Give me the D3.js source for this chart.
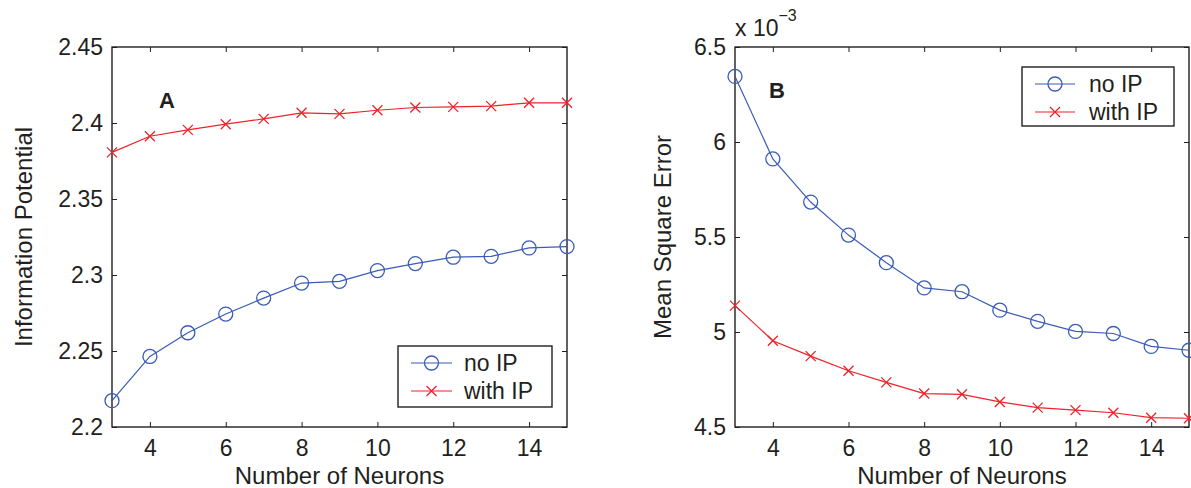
<!DOCTYPE html>
<html>
<head>
<meta charset="utf-8">
<script src="https://cdn.jsdelivr.net/npm/d3@7/dist/d3.min.js"></script>
<style>
  html, body { margin: 0; padding: 0; background: #fff; }
  svg { display: block; }
  text { font-family: "Liberation Sans", Arial, Helvetica, sans-serif; fill: #231f20; }
</style>
</head>
<body>
<svg id="chart" width="1191" height="488"></svg>
<script>
// Number of hidden neurons on the x axis
const neurons = [3, 4, 5, 6, 7, 8, 9, 10, 11, 12, 13, 14, 15];
const seriesNames = ["no IP", "with IP"];

// Panel A: information potential
const ipNoIP   = [2.2173, 2.2464, 2.2620, 2.2743, 2.2848, 2.2947, 2.2958, 2.3029, 2.3075, 2.3117, 2.3123, 2.3178, 2.3187];
const ipWithIP = [2.3807, 2.3913, 2.3955, 2.3992, 2.4027, 2.4067, 2.4060, 2.4084, 2.4102, 2.4106, 2.4111, 2.4133, 2.4133];

// Panel B: mean square error
const mseNoIP   = [0.006345, 0.005911, 0.005684, 0.005510, 0.005365, 0.005232, 0.005212, 0.005115, 0.005056, 0.005003, 0.004992, 0.004924, 0.004904];
const mseWithIP = [0.005139, 0.004954, 0.004873, 0.004796, 0.004735, 0.004676, 0.004672, 0.004632, 0.004602, 0.004589, 0.004575, 0.004549, 0.004546];

// Tick values
const xTicks   = [4, 6, 8, 10, 12, 14];
const ipTicks  = [2.2, 2.25, 2.3, 2.35, 2.4, 2.45];
const mseTicks = [0.0045, 0.005, 0.0055, 0.006, 0.0065];

const BLUE = "#3a5bb6";
const RED = "#ee2228";
const INK = "#231f20";
const FONT = 23;
const TITLE_FONT = 24;

const svg = d3.select("#chart");

function drawPanel(cfg) {
  const { left, right, top, bottom } = cfg.box;
  const g = svg.append("g");

  const x = d3.scaleLinear().domain([3, 15]).range([left, right]);
  const y = d3.scaleLinear().domain(cfg.yDomain).range([bottom, top]);

  // inward ticks on all four sides
  const tick = 5;
  g.append("g").attr("transform", `translate(0,${bottom})`)
    .call(d3.axisBottom(x).tickValues(xTicks).tickSizeInner(-tick).tickSizeOuter(0).tickPadding(13))
    .call(a => a.select(".domain").remove());
  g.append("g").attr("transform", `translate(0,${top})`)
    .call(d3.axisTop(x).tickValues(xTicks).tickSizeInner(-tick).tickSizeOuter(0).tickFormat(""))
    .call(a => a.select(".domain").remove());
  g.append("g").attr("transform", `translate(${left},0)`)
    .call(d3.axisLeft(y).tickValues(cfg.yTicks).tickSizeInner(-tick).tickSizeOuter(0).tickPadding(9).tickFormat(cfg.yFormat))
    .call(a => a.select(".domain").remove());
  g.append("g").attr("transform", `translate(${right},0)`)
    .call(d3.axisRight(y).tickValues(cfg.yTicks).tickSizeInner(-tick).tickSizeOuter(0).tickFormat(""))
    .call(a => a.select(".domain").remove());

  g.selectAll(".tick line").attr("stroke", INK).attr("stroke-width", 1);
  g.selectAll(".tick text").attr("font-size", FONT).attr("fill", INK)
    .attr("font-family", '"Liberation Sans", Arial, sans-serif');

  // axes frame
  g.append("rect")
    .attr("x", left).attr("y", top)
    .attr("width", right - left).attr("height", bottom - top)
    .attr("fill", "none").attr("stroke", INK).attr("stroke-width", 1.4);

  const line = d3.line().x((d, i) => x(neurons[i])).y(d => y(d));

  // no IP series: blue line with open circles
  g.append("path").datum(cfg.noIP)
    .attr("d", line).attr("fill", "none").attr("stroke", BLUE).attr("stroke-width", 1.2);
  g.selectAll(".circ").data(cfg.noIP).enter().append("circle")
    .attr("cx", (d, i) => x(neurons[i])).attr("cy", d => y(d)).attr("r", 7)
    .attr("fill", "none").attr("stroke", BLUE).attr("stroke-width", 1.3);

  // with IP series: red line with x markers
  g.append("path").datum(cfg.withIP)
    .attr("d", line).attr("fill", "none").attr("stroke", RED).attr("stroke-width", 1.2);
  const s = 5;
  g.selectAll(".cross").data(cfg.withIP).enter().append("path")
    .attr("d", (d, i) => {
      const cx = x(neurons[i]), cy = y(d);
      return `M${cx - s},${cy - s}L${cx + s},${cy + s}M${cx - s},${cy + s}L${cx + s},${cy - s}`;
    })
    .attr("fill", "none").attr("stroke", RED).attr("stroke-width", 1.3);

  // panel letter
  g.append("text").attr("x", cfg.letterPos[0]).attr("y", cfg.letterPos[1])
    .attr("font-size", 22).attr("font-weight", "bold").attr("text-anchor", "middle")
    .attr("dominant-baseline", "central").text(cfg.letter);

  // axis titles
  g.append("text").attr("x", (left + right) / 2).attr("y", 484)
    .attr("font-size", TITLE_FONT).attr("text-anchor", "middle").text("Number of Neurons");
  g.append("text")
    .attr("transform", `translate(${cfg.yTitleX},${(top + bottom) / 2}) rotate(-90)`)
    .attr("font-size", TITLE_FONT).attr("text-anchor", "middle").text(cfg.yTitle);

  // legend
  const L = cfg.legend;
  g.append("rect").attr("x", L.x).attr("y", L.y).attr("width", L.w).attr("height", L.h)
    .attr("fill", "#fff").attr("stroke", INK).attr("stroke-width", 1.4);
  const rows = [
    { name: seriesNames[0], color: BLUE, marker: "circle", dy: L.row1 },
    { name: seriesNames[1], color: RED, marker: "cross", dy: L.row2 }
  ];
  rows.forEach(r => {
    const ly = L.y + r.dy;
    g.append("line").attr("x1", L.x + L.lx0).attr("x2", L.x + L.lx1)
      .attr("y1", ly).attr("y2", ly).attr("stroke", r.color).attr("stroke-width", 1.2);
    const mx = L.x + (L.lx0 + L.lx1) / 2;
    if (r.marker === "circle") {
      g.append("circle").attr("cx", mx).attr("cy", ly).attr("r", 7)
        .attr("fill", "none").attr("stroke", r.color).attr("stroke-width", 1.3);
    } else {
      g.append("path")
        .attr("d", `M${mx - s},${ly - s}L${mx + s},${ly + s}M${mx - s},${ly + s}L${mx + s},${ly - s}`)
        .attr("stroke", r.color).attr("stroke-width", 1.3);
    }
    g.append("text").attr("x", L.x + L.tx).attr("y", ly)
      .attr("dominant-baseline", "central").attr("font-size", FONT).text(r.name);
  });

  return g;
}

drawPanel({
  box: { left: 112, right: 567, top: 47, bottom: 427 },
  yDomain: [2.2, 2.45],
  yTicks: ipTicks,
  yFormat: d => String(+d.toFixed(2)),
  noIP: ipNoIP,
  withIP: ipWithIP,
  letter: "A",
  letterPos: [167, 100],
  yTitle: "Information Potential",
  yTitleX: 32,
  legend: { x: 398, y: 346, w: 154, h: 61, row1: 17, row2: 45, lx0: 13, lx1: 54, tx: 66 }
});

const gB = drawPanel({
  box: { left: 735, right: 1189, top: 47, bottom: 427 },
  yDomain: [0.0045, 0.0065],
  yTicks: mseTicks,
  yFormat: d => String(+(d * 1000).toFixed(1)),
  noIP: mseNoIP,
  withIP: mseWithIP,
  letter: "B",
  letterPos: [777, 90],
  yTitle: "Mean Square Error",
  yTitleX: 671,
  legend: { x: 1022, y: 67, w: 152, h: 59, row1: 17, row2: 45, lx0: 13, lx1: 53, tx: 67 }
});

// exponent label above panel B
const expo = gB.append("text").attr("x", 735).attr("y", 36).attr("font-size", FONT);
expo.append("tspan").text("x 10");
expo.append("tspan").attr("font-size", 16).attr("dy", -15).text("\u22123");
</script>
</body>
</html>
